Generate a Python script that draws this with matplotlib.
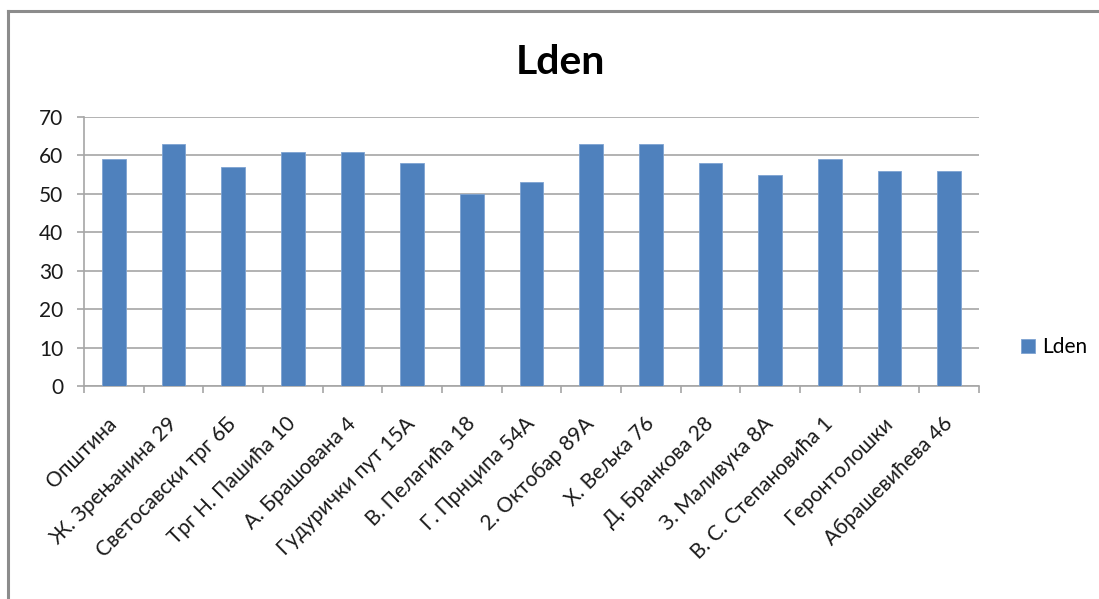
import matplotlib
matplotlib.use('Agg')
import matplotlib.pyplot as plt
from matplotlib.lines import Line2D
import numpy as np

plt.rcParams['font.family'] = ['Lato', 'DejaVu Sans']

###############################################################################
# Data
###############################################################################
LABELS = [
    'Општина', 'Ж. Зрењанина 29', 'Светосавски трг 6Б', 'Трг Н. Пашића 10',
    'А. Брашована 4', 'Гудурички пут 15А', 'В. Пелагића 18', 'Г. Прнципа 54А',
    '2. Октобар 89А', 'Х. Вељка 76', 'Д. Бранкова 28', 'З. Маливука 8А',
    'В. С. Степановића 1', 'Геронтолошки', 'Абрашевићева 46'
]
LDEN = [59, 63, 57, 61, 61, 58, 50, 53, 63, 63, 58, 55, 59, 56, 56]
Y_TICKS = [0, 10, 20, 30, 40, 50, 60, 70]
SERIES = 'Lden'

(BAR_COL, GRID_COL, TXT_COL) = ('#4F81BD', '#a6a6a6', '#1a1a1a')
###############################################################################
# Plot
###############################################################################
fig = plt.figure(figsize=(10.99, 5.99), dpi=100)
fig.patch.set_facecolor('white')
ax = fig.add_axes([0.0764, 0.3556, 0.8144, 0.4491])

xs = np.arange(len(LABELS))
ax.bar(
    xs, LDEN, width=0.4, color=BAR_COL, edgecolor='#7ea3d2',
    linewidth=0.6, label=SERIES, zorder=3
)
ax.set_xlim(-0.5, len(LABELS)-0.5)
ax.set_ylim(0, 70)
ax.set_yticks(Y_TICKS)
ax.set_yticklabels([str(v) for v in Y_TICKS], fontsize=15, color=TXT_COL)
ax.yaxis.grid(True, color=GRID_COL, linewidth=1.2, zorder=0)
# Category labels at centers, tick marks at boundaries ------------------------
ax.set_xticks(xs)
ax.set_xticklabels(
    LABELS, rotation=45, ha='right', va='center', rotation_mode='anchor',
    fontsize=15, color=TXT_COL
)
ax.set_xticks(np.arange(-0.5, len(LABELS)), minor=True)
ax.tick_params(axis='x', which='major', length=0, pad=25)
ax.tick_params(axis='x', which='minor', length=5, color=GRID_COL, width=1.2)
ax.tick_params(axis='y', length=5, color=GRID_COL, width=1.2, pad=10)
for side in ['top', 'right']:
    ax.spines[side].set_visible(False)
for side in ['left', 'bottom']:
    ax.spines[side].set_color(GRID_COL)
    ax.spines[side].set_linewidth(1.2)

fig.text(
    0.51, 0.895, 'Lden', ha='center', va='center',
    fontsize=29.5, fontweight='bold', color='black'
)
fig.legend(
    loc='center left', bbox_to_anchor=(0.912, 0.42), frameon=False,
    fontsize=15, handlelength=0.65, handleheight=0.65, handletextpad=0.35
)
# Outer frame -----------------------------------------------------------------
fig.add_artist(Line2D([0.0075, 0.0075], [0.0, 0.982], color='#8c8c8c', lw=2.2))
fig.add_artist(Line2D([0.0075, 1.0], [0.982, 0.982], color='#8c8c8c', lw=2.2))

fig.savefig('out.png', dpi=100, facecolor='white')
plt.close('all')
